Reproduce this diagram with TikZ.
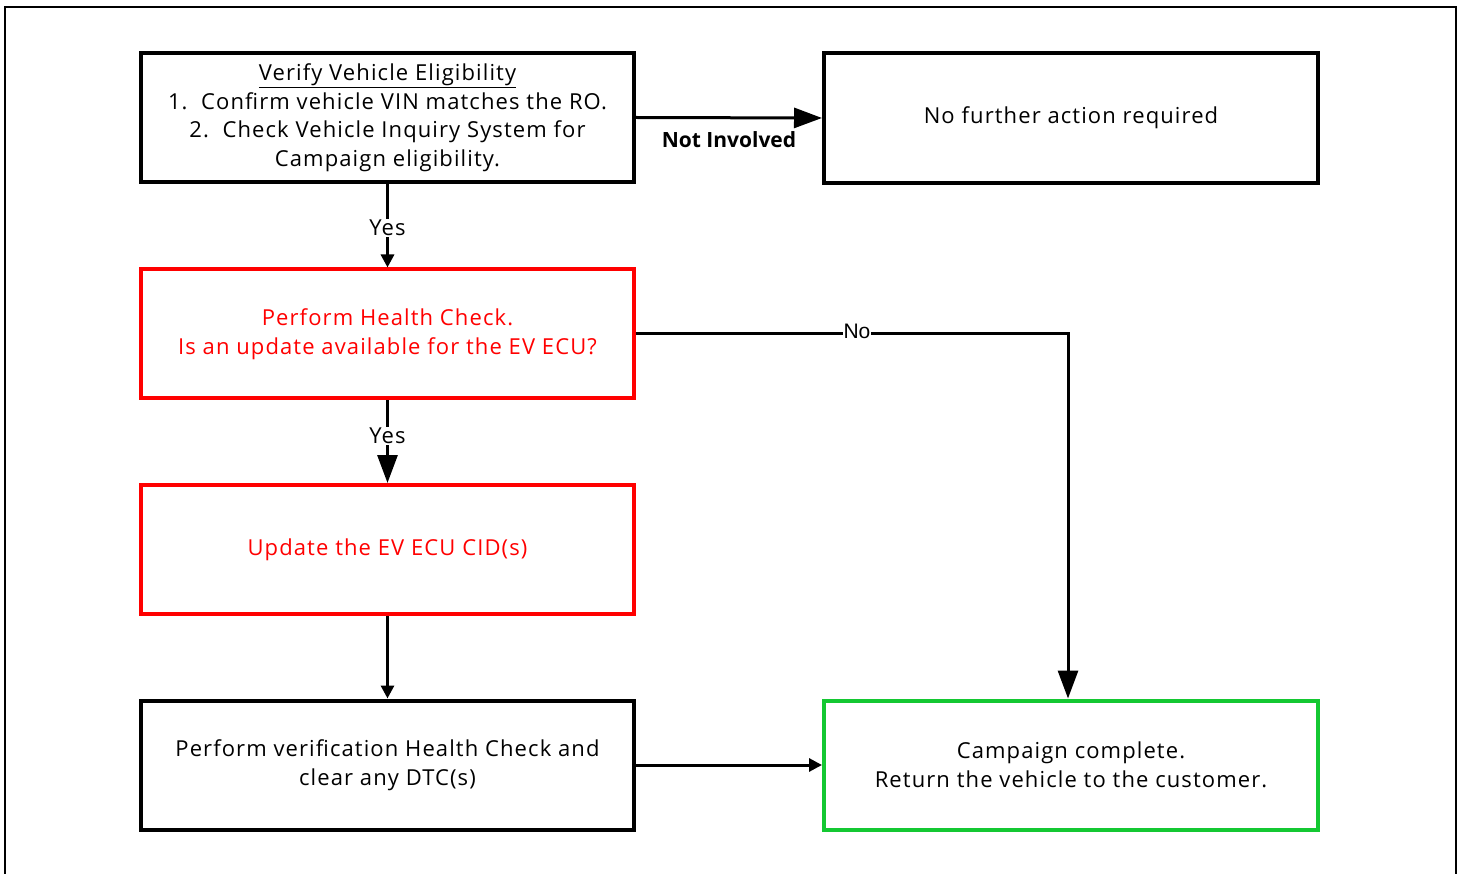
\documentclass[tikz,border=0pt]{standalone}
\usepackage{fontspec}
\setmainfont{Open Sans}[LetterSpace=5]
\newfontfamily\lblfont{Liberation Sans}
\usetikzlibrary{arrows.meta}
\definecolor{boxred}{RGB}{255,0,0}
\definecolor{boxgreen}{RGB}{20,200,50}
\tikzset{
  box/.style={draw=black, line width=4pt, minimum width=493pt, minimum height=129pt,
    align=center, inner sep=0pt, font=\fontsize{22}{28.5}\selectfont},
  redbox/.style={box, draw=boxred, text=boxred},
  greenbox/.style={box, draw=boxgreen},
  conn/.style={line width=3pt},
  bigtip/.style={-{Triangle[length=28pt,width=20pt]}},
  smalltip/.style={-{Triangle[length=13pt,width=13pt]}},
  yeslbl/.style={fill=white, inner sep=1pt, font=\fontsize{22}{25}\selectfont},
}
\begin{document}
\begin{tikzpicture}[x=1pt,y=-1pt]
\useasboundingbox (0,0) rectangle (1462,874);
\draw[line width=2pt] (5,7) rectangle (1456,900);
\node[box] (verify) at (387.5,117.5) {\underline{Verify Vehicle Eligibility}\\1.\ \ Confirm vehicle VIN matches the RO.\\2.\ \ Check Vehicle Inquiry System for\\Campaign eligibility.};
\node[box, minimum width=494pt, minimum height=130pt] (nofurther) at (1071,118) {No further action required};
\node[redbox] (health) at (387.5,334) {Perform Health Check.\\Is an update available for the EV ECU?};
\node[redbox] (update) at (387.5,549.5) {Update the EV ECU CID(s)};
\node[box] (verif) at (387.5,765) {Perform verification Health Check and\\clear any DTC(s)};
\node[greenbox, minimum width=494pt] (done) at (1071,765) {Campaign complete.\\Return the vehicle to the customer.};
\coordinate (corner) at (1068,334);
\draw[conn, bigtip] (verify.east) -- (nofurther.west)
  node[midway, below=9pt, font=\fontsize{21}{25}\selectfont\addfontfeatures{LetterSpace=0}\bfseries] (ni) {Not Involved};
\draw[conn, smalltip] (verify.south) -- (health.north)
  node[pos=0.53, yeslbl] (y1) {Yes};
\draw[conn, bigtip] (health.south) -- (update.north)
  node[pos=0.43, yeslbl] (y2) {Yes};
\draw[conn, bigtip] (health.east) -- (corner) -- (done.north -| corner);
\node[fill=white, inner sep=1pt, font=\lblfont\fontsize{21}{25}\selectfont] (nolbl) at (857,331) {No};
\draw[conn, smalltip] (update.south) -- (verif.north);
\draw[conn, smalltip] (verif.east) -- (done.west);
\end{tikzpicture}
\end{document}
